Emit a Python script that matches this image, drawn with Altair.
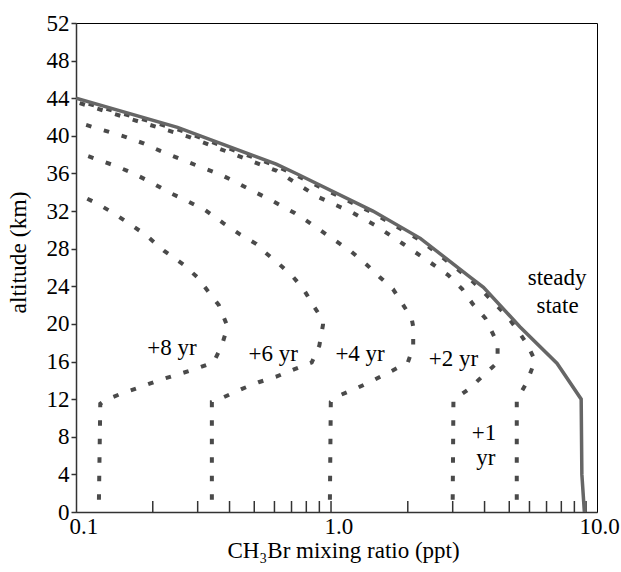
import altair as alt
import pandas as pd

FONT = "Liberation Serif"

# ---- data ----
steady_x = [0.1, 0.25, 0.61, 0.73, 1.46, 2.24, 3.5, 3.96, 5.5, 7.7, 9.57, 9.63, 9.85]
steady_y = [44.0, 40.9, 37.0, 36.0, 32.0, 29.1, 25.0, 23.9, 19.7, 15.8, 12.0, 4.0, 0.0]

yr1_x = [5.35, 5.35, 5.86, 6.31, 5.86, 5.34, 4.88, 4.33, 3.84, 3.5, 2.24, 1.46, 0.73, 0.61, 0.25, 0.1]
yr1_y = [1.3, 11.9, 13.8, 16.1, 17.9, 19.5, 20.9, 22.3, 23.8, 24.8, 28.9, 31.8, 35.8, 36.8, 40.7, 43.8]

yr2_x = [3.0, 3.02, 3.48, 3.95, 4.5, 4.5, 4.2, 4.03, 3.6, 3.27, 2.88, 2.49, 1.92, 1.49, 1.2, 0.89, 0.61, 0.448, 0.277, 0.168, 0.1]
yr2_y = [1.3, 11.9, 13.1, 14.5, 15.9, 17.9, 19.6, 20.6, 22.1, 23.7, 25.2, 26.4, 28.5, 30.5, 31.9, 33.5, 36.3, 37.7, 39.9, 41.7, 43.6]

yr4_x = [0.99, 0.998, 1.08, 1.27, 1.49, 1.73, 2.0, 2.1, 2.1, 2.07, 1.92, 1.75, 1.55, 1.38, 1.2, 0.96, 0.83, 0.72, 0.587, 0.497, 0.428, 0.368, 0.294, 0.253, 0.214, 0.184, 0.156, 0.121, 0.1]
yr4_y = [1.3, 11.7, 12.4, 13.2, 14.1, 15.0, 15.9, 17.5, 19.7, 20.6, 22.0, 23.7, 25.0, 26.3, 27.7, 29.5, 30.7, 31.8, 33.1, 34.1, 35.0, 35.9, 36.9, 37.6, 38.4, 39.2, 39.9, 40.8, 41.5]

yr6_x = [0.341, 0.341, 0.379, 0.448, 0.52, 0.61, 0.72, 0.84, 0.9, 0.93, 0.93, 0.85, 0.78, 0.71, 0.63, 0.552, 0.51, 0.441, 0.379, 0.321, 0.272, 0.231, 0.199, 0.168, 0.143, 0.121, 0.1]
yr6_y = [1.3, 11.7, 12.2, 13.1, 13.8, 14.4, 15.2, 15.9, 17.7, 19.9, 20.4, 22.0, 23.7, 25.0, 26.3, 27.6, 28.5, 29.5, 30.7, 32.1, 33.1, 34.0, 35.0, 36.0, 36.8, 37.5, 38.3]

yr8_x = [0.123, 0.1245, 0.13, 0.151, 0.179, 0.211, 0.249, 0.293, 0.346, 0.373, 0.393, 0.363, 0.298, 0.264, 0.221, 0.187, 0.163, 0.14, 0.121, 0.1]
yr8_y = [1.3, 11.5, 11.9, 12.6, 13.3, 14.0, 14.6, 15.2, 15.9, 17.7, 19.7, 22.0, 25.0, 26.3, 27.8, 29.5, 30.6, 31.8, 32.8, 33.9]

label_text = ["+8 yr", "+6 yr", "+4 yr", "+2 yr", "+1", "yr", "steady", "state"]
label_x = [0.238, 0.593, 1.30, 3.02, 3.98, 4.05, 7.7, 7.73]
label_y = [16.65, 16.1, 16.1, 15.5, 7.7, 4.95, 24.1, 21.15]

x_tick_values = [0.2, 0.3, 0.4, 0.5, 0.6, 0.7, 0.8, 0.9, 1.0, 2, 3, 4, 5, 6, 7, 8, 9, 10]
x_label_values = [0.1, 1.0, 10.0]
y_tick_values = list(range(0, 53, 4))

# ---- tables ----
steady_df = pd.DataFrame({"x": steady_x, "y": steady_y, "o": range(len(steady_x))})
rows = []
for name, xs, ys in [("+1", yr1_x, yr1_y), ("+2", yr2_x, yr2_y), ("+4", yr4_x, yr4_y),
                     ("+6", yr6_x, yr6_y), ("+8", yr8_x, yr8_y)]:
    for i, (a, b) in enumerate(zip(xs, ys)):
        rows.append({"series": name, "x": a, "y": b, "o": i})
dotted_df = pd.DataFrame(rows)
labels_df = pd.DataFrame({"x": label_x, "y": label_y, "t": label_text})
ticks_df = pd.DataFrame({"x": x_tick_values})

W, H = 521, 489
FS = 23

xscale = alt.Scale(type="log", domain=[0.1, 11.04], nice=False)
yscale = alt.Scale(domain=[0, 52], nice=False)

xaxis = alt.Axis(values=x_label_values, format=".1f", ticks=False, grid=False,
                 labelFont=FONT, labelFontSize=FS, labelColor="black",
                 labelAlign="left", labelOffset=-7, labelPadding=3,
                 labelFlush=False, labelOverlap=False,
                 domainColor="#333333", domainWidth=1.5,
                 title="CH\u2083Br mixing ratio (ppt)", titleFont=FONT, titleFontSize=FS,
                 titleFontWeight="normal", titleColor="black",
                 titleX=267, titleY=38, titleAlign="center", titleBaseline="middle")
yaxis = alt.Axis(values=y_tick_values, tickSize=5, tickColor="#333333", tickWidth=1.5,
                 grid=False, labelFont=FONT, labelFontSize=FS, labelColor="black",
                 labelPadding=2, labelFlush=False, labelOverlap=False,
                 domainColor="#333333", domainWidth=1.5,
                 title="altitude (km)", titleFont=FONT, titleFontSize=FS + 0.5,
                 titleFontWeight="normal", titleColor="black",
                 titleX=-58, titleY=229, titleAngle=270, titleAlign="center",
                 titleBaseline="middle")

X = alt.X("x:Q", scale=xscale, axis=xaxis)
Y = alt.Y("y:Q", scale=yscale, axis=yaxis)

dotted = alt.Chart(dotted_df).mark_line(
    color="#4a4a4a", strokeWidth=4, strokeDash=[5.5, 13], strokeCap="butt", clip=True
).encode(x=X, y=Y, detail="series:N", order="o:Q")

steady = alt.Chart(steady_df).mark_line(
    color="#666666", strokeWidth=3.5, clip=True
).encode(x=X, y=Y, order="o:Q")

ticks = alt.Chart(ticks_df).mark_rule(color="#333333", strokeWidth=1.5).encode(
    x=X, y=alt.value(H), y2=alt.value(H - 11)
)

texts = alt.Chart(labels_df).mark_text(
    font=FONT, fontSize=FS, color="black", align="center", baseline="alphabetic"
).encode(x=X, y=Y, text="t:N")

chart = alt.layer(ticks, dotted, steady, texts).properties(
    width=W, height=H,
    autosize=alt.AutoSizeParams(type="none"),
    padding={"left": 76, "top": 23, "right": 24, "bottom": 60},
    background="white",
).configure_view(stroke="black", strokeWidth=1)

chart.save("out.html", embed_options={"renderer": "svg", "actions": False})
